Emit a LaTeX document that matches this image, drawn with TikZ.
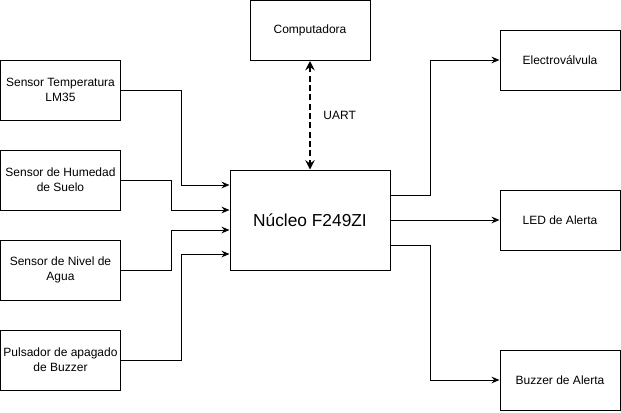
\documentclass[tikz,border=0pt]{standalone}
\usepackage{fontspec}
\setmainfont{Liberation Sans}
\usetikzlibrary{positioning,arrows.meta}

\tikzset{
  bloque/.style={draw,line width=0.75pt,minimum width=90pt,minimum height=45pt,align=center,inner sep=1pt,font=\fontsize{9}{11}\selectfont},
  flecha/.style={-{Stealth[length=6pt,width=5pt,inset=2pt]},line width=0.75pt},
  enlace/.style={{Stealth[length=7pt,width=7pt,inset=2.5pt]}-{Stealth[length=7pt,width=7pt,inset=2.5pt]},line width=1.5pt,dash pattern=on 4.5pt off 2.5pt},
}

\begin{document}
\begin{tikzpicture}[x=0.75pt,y=-0.75pt]
    \useasboundingbox (0,0) rectangle (621,412);
    % entradas
    \node[bloque] (temp) at (60.5,90) {Sensor Temperatura\\LM35};
    \node[bloque] (humedad) at (60.5,180) {Sensor de Humedad\\de Suelo};
    \node[bloque] (nivel) at (60.5,270) {Sensor de Nivel de\\Agua};
    \node[bloque] (pulsador) at (60.5,360) {Pulsador de apagado\\de Buzzer};
    % nucleo y pc
    \node[bloque,minimum width=120pt,minimum height=75pt,font=\fontsize{13}{15}\selectfont] (nucleo) at (310,220) {Núcleo F249ZI};
    \node[bloque] (pc) at (310,30.5) {Computadora};
    % salidas
    \node[bloque] (valvula) at (560,60) {Electroválvula};
    \node[bloque] (led) at (560,220) {LED de Alerta};
    \node[bloque] (buzzer) at (560,380) {Buzzer de Alerta};

    \draw[flecha] (temp.east) -- ++(60,0) |- ([yshift=26.25pt]nucleo.west);
    \draw[flecha] (humedad.east) -- ++(50,0) |- ([yshift=7.5pt]nucleo.west);
    \draw[flecha] (nivel.east) -- ++(50,0) |- ([yshift=-7.5pt]nucleo.west);
    \draw[flecha] (pulsador.east) -- ++(60,0) |- ([yshift=-25.5pt]nucleo.west);

    \draw[flecha] ([yshift=18.75pt]nucleo.east) -- ++(40,0) |- (valvula.west);
    \draw[flecha] (nucleo.east) -- (led.west);
    \draw[flecha] ([yshift=-18.75pt]nucleo.east) -- ++(40,0) |- (buzzer.west);

    \draw[enlace] (pc.south) -- (nucleo.north) node[midway,right=6pt,font=\fontsize{9}{11}\selectfont] {UART};
\end{tikzpicture}
\end{document}
